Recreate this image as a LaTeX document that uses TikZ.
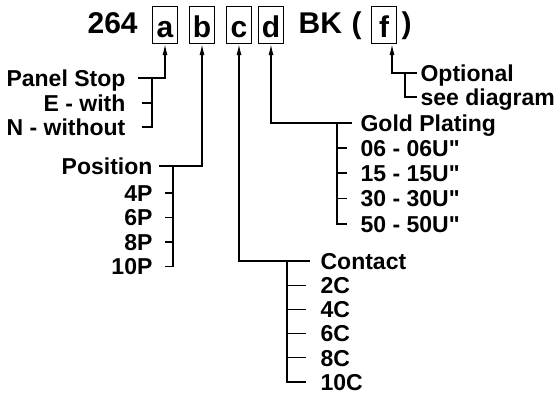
\documentclass[tikz,border=0pt]{standalone}
\usepackage{fontspec}
\setmainfont{Liberation Sans}[Ligatures=TeXOff]
\usetikzlibrary{arrows.meta}

\begin{document}
\begin{tikzpicture}[x=1pt, y=-1pt, line width=1.2pt,
    code/.style={font=\bfseries\fontsize{30}{34}\selectfont, inner sep=0pt, anchor=base west},
    field/.style={draw, font=\bfseries\fontsize{30}{34}\selectfont, inner sep=0pt,
        minimum width=25pt, minimum height=37pt, text height=24pt, text depth=0pt},
    item/.style={font=\bfseries\fontsize{23}{26}\selectfont, inner sep=0pt,
        text height=16.5pt, text depth=0pt},
    pick/.style={{Latex[length=11pt,width=5pt]}-}]
    \useasboundingbox (0,0) rectangle (560,394);

    % Part number
    \node[code] (num) at (87,33) {264};
    \node[field] (a) at (165,25) {a};
    \node[field] (b) at (202,25) {b};
    \node[field] (c) at (239,25) {c};
    \node[field] (d) at (271,25) {d};
    \node[code] (bk) at (298,33) {BK};
    \node[code] (lpar) at (351,33) {(};
    \node[field] (f) at (384,25) {f};
    \node[code] (rpar) at (401,33) {)};

    % Panel stop
    \node[item, anchor=east] (stop) at (126,78) {Panel Stop};
    \node[item, anchor=east] (with) at (126,103) {E - with};
    \node[item, anchor=east] (without) at (126,127) {N - without};
    \draw[pick] (a.south) |- ([xshift=12pt]stop.east);
    \draw ([xshift=26pt]stop.east) -- ([xshift=26pt]without.east) -- ([xshift=16pt]without.east);
    \draw ([xshift=16pt]with.east) -- ([xshift=26pt]with.east);

    % Position
    \node[item, anchor=east] (pos) at (153,166) {Position};
    \node[item, anchor=east] (p4) at (153,193) {4P};
    \node[item, anchor=east] (p6) at (153,217.5) {6P};
    \node[item, anchor=east] (p8) at (153,242) {8P};
    \node[item, anchor=east] (p10) at (153,266.5) {10P};
    \draw[pick] (b.south) |- ([xshift=6pt]pos.east);
    \draw ([xshift=20pt]pos.east) -- ([xshift=20pt]p10.east) -- ([xshift=12pt]p10.east);
    \draw ([xshift=12pt]p4.east) -- ([xshift=20pt]p4.east);
    \draw ([xshift=12pt]p6.east) -- ([xshift=20pt]p6.east);
    \draw ([xshift=12pt]p8.east) -- ([xshift=20pt]p8.east);

    % Contact
    \node[item, anchor=west] (contact) at (320,261) {Contact};
    \node[item, anchor=west] (c2) at (320,285.2) {2C};
    \node[item, anchor=west] (c4) at (320,309.4) {4C};
    \node[item, anchor=west] (c6) at (320,333.6) {6C};
    \node[item, anchor=west] (c8) at (320,357.8) {8C};
    \node[item, anchor=west] (c10) at (320,382) {10C};
    \draw[pick] (c.south) |- ([xshift=-10pt]contact.west);
    \draw ([xshift=-33pt]contact.west) -- ([xshift=-33pt]c10.west) -- ([xshift=-14pt]c10.west);
    \draw ([xshift=-33pt]c2.west) -- ([xshift=-14pt]c2.west);
    \draw ([xshift=-33pt]c4.west) -- ([xshift=-14pt]c4.west);
    \draw ([xshift=-33pt]c6.west) -- ([xshift=-14pt]c6.west);
    \draw ([xshift=-33pt]c8.west) -- ([xshift=-14pt]c8.west);

    % Gold plating
    \node[item, anchor=west] (gold) at (360,123) {Gold Plating};
    \node[item, anchor=west] (g06) at (360,148) {06 - 06U"};
    \node[item, anchor=west] (g15) at (360,173) {15 - 15U"};
    \node[item, anchor=west] (g30) at (360,198.5) {30 - 30U"};
    \node[item, anchor=west] (g50) at (360,224) {50 - 50U"};
    \draw[pick] (d.south) |- ([xshift=-8pt]gold.west);
    \draw ([xshift=-23pt]gold.west) -- ([xshift=-23pt]g50.west) -- ([xshift=-13pt]g50.west);
    \draw ([xshift=-23pt]g06.west) -- ([xshift=-13pt]g06.west);
    \draw ([xshift=-23pt]g15.west) -- ([xshift=-13pt]g15.west);
    \draw ([xshift=-23pt]g30.west) -- ([xshift=-13pt]g30.west);

    % Option
    \node[item, anchor=west] (opt) at (420,73) {Optional};
    \node[item, anchor=west] (see) at (420,97) {see diagram};
    \draw[pick] ([xshift=8pt]f.south) |- ([xshift=-3pt]opt.west);
    \draw ([xshift=-15pt]opt.west) -- ([xshift=-15pt]see.west) -- ([xshift=-3pt]see.west);
\end{tikzpicture}
\end{document}
